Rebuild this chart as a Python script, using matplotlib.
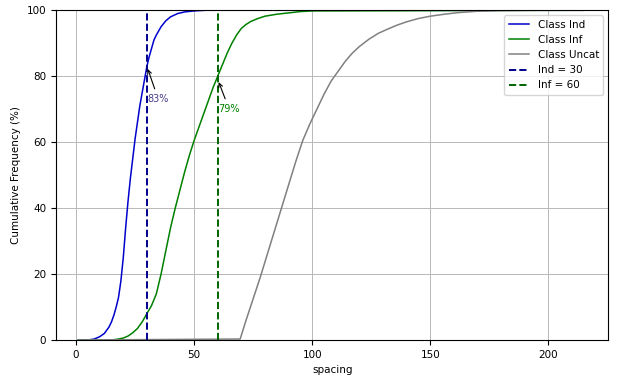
import matplotlib
matplotlib.use("Agg")
import matplotlib.pyplot as plt

# cumulative frequency curves
ind_x = [1, 5, 7.7, 10, 12, 14, 15, 16, 17, 18, 19, 20, 21, 22, 23, 24, 25, 26, 27,
         28, 29, 30, 31, 32, 33, 34, 36, 38, 40, 43, 46, 50, 55, 215]
ind_y = [0, 0, 0.3, 1, 2, 4, 5.5, 7.5, 10, 13, 18, 25, 34, 42, 49, 55, 61, 66, 71,
         75, 79, 83, 86, 88.5, 91, 92.5, 95, 96.8, 98, 99, 99.5, 99.8, 100, 100]

inf_x = [1, 15, 18, 20, 22, 24, 26, 28, 30, 32, 34, 36, 38, 40, 42, 44, 46, 48, 50,
         52, 54, 56, 58, 60, 62, 64, 66, 68, 70, 72, 74, 77, 80, 85, 90, 95, 100, 215]
inf_y = [0, 0, 0.3, 0.6, 1.2, 2.2, 3.5, 5.5, 8, 10.5, 14, 20, 27, 34, 40, 45.5, 51, 56, 60.5,
         64.5, 68.5, 72.5, 76.5, 80, 83.5, 87, 90, 92.5, 94.5, 95.7, 96.6, 97.5, 98.2, 98.8,
         99.2, 99.6, 99.8, 100]

unc_x = [1, 69.5, 72, 75, 78, 81, 84, 87, 90, 93, 96, 99, 102, 105, 108, 111, 114, 117,
         120, 124, 128, 132, 136, 140, 145, 150, 156, 162, 170, 180, 192, 215]
unc_y = [0, 0.3, 6, 12.5, 19, 26, 33, 40, 47, 54, 60.5, 65.5, 70, 74.5, 78.5, 81.5, 84.5, 87,
         89, 91.2, 93, 94.3, 95.5, 96.5, 97.5, 98.2, 98.8, 99.3, 99.7, 99.9, 100, 100]

ind_cut = 30
inf_cut = 60
ind_pct = 83
inf_pct = 79

plt.rcParams['font.size'] = 7.5
fig = plt.figure(figsize=(6.18, 3.76), dpi=100)
ax = fig.add_axes([0.0906, 0.0957, 0.894, 0.877])

ax.plot(ind_x, ind_y, color='mediumblue', lw=1.1, label='Class Ind')
ax.plot(inf_x, inf_y, color='green', lw=1.1, label='Class Inf')
ax.plot(unc_x, unc_y, color='gray', lw=1.1, label='Class Uncat')
ax.axvline(ind_cut, color='darkblue', ls='--', lw=1.4, label='Ind = %d' % ind_cut)
ax.axvline(inf_cut, color='darkgreen', ls='--', lw=1.4, label='Inf = %d' % inf_cut)

ax.annotate('%d%%' % ind_pct, xy=(ind_cut, ind_pct), xytext=(ind_cut + 0.3, 73),
            color='darkslateblue', fontsize=7, ha='left', va='center',
            arrowprops=dict(arrowstyle='->', color='black', lw=0.8))
ax.annotate('%d%%' % inf_pct, xy=(inf_cut, inf_pct), xytext=(inf_cut + 0.3, 70),
            color='green', fontsize=7, ha='left', va='center',
            arrowprops=dict(arrowstyle='->', color='black', lw=0.8))

ax.set_xlim(-8.5, 225.5)
ax.set_ylim(0, 100)
ax.set_xlabel('spacing')
ax.set_ylabel('Cumulative Frequency (%)')
ax.grid(True, color='#b8b8b8', lw=0.7)
ax.legend(loc='upper right', fontsize=7.5)

fig.savefig('out.png', dpi=100)
